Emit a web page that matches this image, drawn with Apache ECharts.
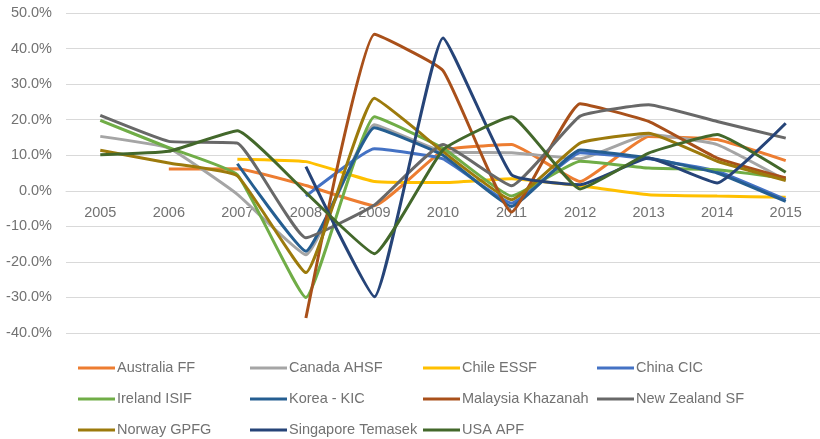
<!DOCTYPE html>
<html>
<head>
<meta charset="utf-8">
<script src="https://cdn.jsdelivr.net/npm/echarts@6/dist/echarts.min.js"></script>
<style>
  html, body { margin: 0; padding: 0; background: #fff; }
  #main { width: 820px; height: 439px; }
</style>
</head>
<body>
<div id="main"></div>
<script>
// years on the x axis
var years = ['2005', '2006', '2007', '2008', '2009', '2010', '2011', '2012', '2013', '2014', '2015'];

// annual returns in %, null where the fund has no figure
var australiaFF = [null, 6.1, 6.2, 1.5, -4.2, 11.3, 13.0, 2.6, 15.3, 14.4, 8.5];
var canadaAHSF = [15.3, 12.0, -1.0, -18.0, 18.6, 11.0, 10.7, 9.0, 15.8, 13.0, 3.0];
var chileESSF = [null, null, 8.9, 8.2, 2.6, 2.3, 3.4, 1.4, -1.1, -1.5, -1.8];
var chinaCIC = [null, null, null, -1.5, 11.8, 9.0, -3.5, 10.7, 9.0, 5.5, -2.5];
var irelandISIF = [19.8, 12.1, 4.5, -30.0, 20.8, 12.0, -1.5, 8.3, 6.4, 5.9, 3.5];
var koreaKIC = [null, null, 7.6, -17.0, 17.7, 10.0, -4.4, 11.5, 9.2, 5.0, -3.0];
var malaysiaKhazanah = [null, null, null, -35.8, 44.0, 33.8, -6.0, 24.5, 19.5, 9.2, 3.6];
var newZealandSF = [21.2, 13.9, 13.4, -13.2, -4.0, 13.0, 1.4, 21.0, 24.2, 19.5, 14.8];
var norwayGPFG = [11.4, 7.8, 4.2, -23.0, 26.0, 11.0, -2.5, 13.4, 16.2, 8.3, 2.9];
var singaporeTemasek = [null, null, null, 6.8, -29.8, 43.0, 4.5, 1.7, 9.2, 2.2, 19.0];
var usaAPF = [10.1, 11.1, 16.9, -0.5, -17.7, 11.5, 20.8, 0.5, 10.6, 15.8, 5.2];

// y axis range and step
var yMin = -40;
var yMax = 50;
var yStep = 10;

var names = ['Australia FF', 'Canada AHSF', 'Chile ESSF', 'China CIC', 'Ireland ISIF', 'Korea - KIC',
  'Malaysia Khazanah', 'New Zealand SF', 'Norway GPFG', 'Singapore Temasek', 'USA APF'];
var values = [australiaFF, canadaAHSF, chileESSF, chinaCIC, irelandISIF, koreaKIC,
  malaysiaKhazanah, newZealandSF, norwayGPFG, singaporeTemasek, usaAPF];
var colors = ['#ED7D31', '#A5A5A5', '#FFC000', '#4472C4', '#70AD47', '#255E91',
  '#A9501A', '#686868', '#9C7A0C', '#264478', '#43682B'];

var textColor = '#727272';

var series = [];
for (let i = 0; i < names.length; i++) {
  series.push({
    name: names[i],
    type: 'line',
    data: values[i],
    smooth: 0.12,
    showSymbol: false,
    lineStyle: {width: 3, color: colors[i]},
    itemStyle: {color: colors[i]}
  });
}

// legend laid out in four columns, three rows
function legendColumn(left, items) {
  return {
    orient: 'vertical',
    left: left,
    top: 360,
    padding: 0,
    itemGap: 15,
    itemWidth: 37,
    itemHeight: 3,
    icon: 'rect',
    data: items,
    textStyle: {color: textColor, fontSize: 14.5, lineHeight: 16, padding: [0, 0, 0, -3]}
  };
}

var myChart = echarts.init(document.getElementById('main'));
myChart.setOption({
  animation: false,
  color: colors,
  grid: {left: 66, top: 13, width: 760, bottom: 106},
  legend: [
    legendColumn(78, ['Australia FF', 'Ireland ISIF', 'Norway GPFG']),
    legendColumn(250, ['Canada AHSF', 'Korea - KIC', 'Singapore Temasek']),
    legendColumn(423, ['Chile ESSF', 'Malaysia Khazanah', 'USA APF']),
    legendColumn(597, ['China CIC', 'New Zealand SF'])
  ],
  xAxis: {
    type: 'category',
    data: years,
    boundaryGap: true,
    // axis sits on the 0% line: 142px above the bottom of the grid
    offset: -142,
    axisLine: {onZero: false, lineStyle: {color: '#D9D9D9', width: 1}},
    axisTick: {show: false},
    axisLabel: {color: textColor, fontSize: 14.5, margin: 14}
  },
  yAxis: {
    type: 'value',
    min: yMin,
    max: yMax,
    interval: yStep,
    axisLine: {show: false},
    axisTick: {show: false},
    splitLine: {lineStyle: {color: '#D9D9D9', width: 1}},
    axisLabel: {
      color: textColor,
      fontSize: 14.5,
      margin: 14,
      formatter: function (v) { return v.toFixed(1) + '%'; }
    }
  },
  series: series
});
</script>
</body>
</html>
